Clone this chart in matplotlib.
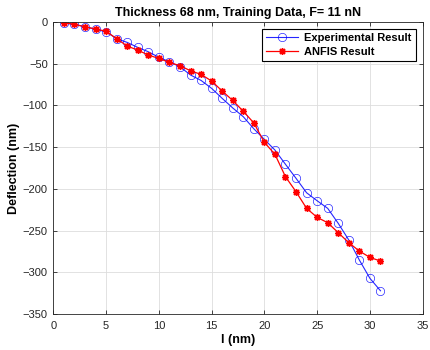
import matplotlib
matplotlib.use("Agg")
import matplotlib.pyplot as plt

plt.rcParams["font.family"] = ["Liberation Sans", "DejaVu Sans"]

# ---- data ----
x = list(range(1, 32))
experimental = [-1, -2.8, -5.6, -8.8, -11.6, -20, -24.4, -30.4, -35.6, -42.3,
                -47.6, -53.6, -63.5, -70, -79.5, -91.5, -103, -113.5, -128,
                -140.7, -153.5, -170.6, -187.4, -204.7, -214.3, -223.4,
                -241.4, -261.4, -285.4, -307.3, -322.2]
anfis = [-0.8, -2.8, -5.6, -8.4, -11, -20, -28.8, -33.6, -39.6, -43.6,
         -48.4, -52.4, -58.4, -62.8, -70.7, -82.7, -94, -107, -121,
         -144.3, -158.6, -185.5, -203.5, -223.4, -234.2, -240.6,
         -252.6, -264.6, -274.6, -282.2, -286.6]

xticks = [0, 5, 10, 15, 20, 25, 30, 35]
yticks = [0, -50, -100, -150, -200, -250, -300, -350]

fig = plt.figure(figsize=(4.3, 3.5), dpi=100)
ax = fig.add_axes([0.124, 0.103, 0.859, 0.834])

ax.plot(x, experimental, color="#0000FF", lw=0.8, marker="o", ms=6,
        mfc="none", mec="#0000FF", mew=0.5, alpha=0.85, label="Experimental Result")
ax.plot(x, anfis, color="#FF0000", lw=0.9, marker=(8, 2, 0), ms=5,
        mfc="#FF0000", mec="#FF0000", mew=1.0, label="ANFIS Result")

ax.set_xlim(0, 35)
ax.set_ylim(-350, 0)
ax.set_xticks(xticks)
ax.set_yticks(yticks)
ax.tick_params(direction="in", labelsize=8, length=3, width=0.6, colors="#262626",
               top=True, right=True, labeltop=False, labelright=False)
ax.tick_params(axis="x", pad=5)
ax.tick_params(axis="y", pad=4)
ax.grid(True, color="#DDDDDD", lw=0.6)
ax.set_axisbelow(True)
for s in ax.spines.values():
    s.set_color("#262626")
    s.set_linewidth(0.6)

ax.set_title("Thickness 68 nm, Training Data, F= 11 nN", fontsize=9,
             fontweight="bold", pad=4)
ax.set_xlabel("l (nm)", fontsize=9, fontweight="bold", labelpad=2)
ax.set_ylabel("Deflection (nm)", fontsize=9, fontweight="bold", labelpad=2)

leg = ax.legend(loc="upper right", fontsize=8, fancybox=False, framealpha=1,
                edgecolor="black", borderpad=0.4, handlelength=2.8,
                handletextpad=0.6, labelspacing=0.35, borderaxespad=0.6)
leg.get_frame().set_linewidth(0.8)
for t in leg.get_texts():
    t.set_fontweight("bold")

fig.savefig("out.png", dpi=100)
